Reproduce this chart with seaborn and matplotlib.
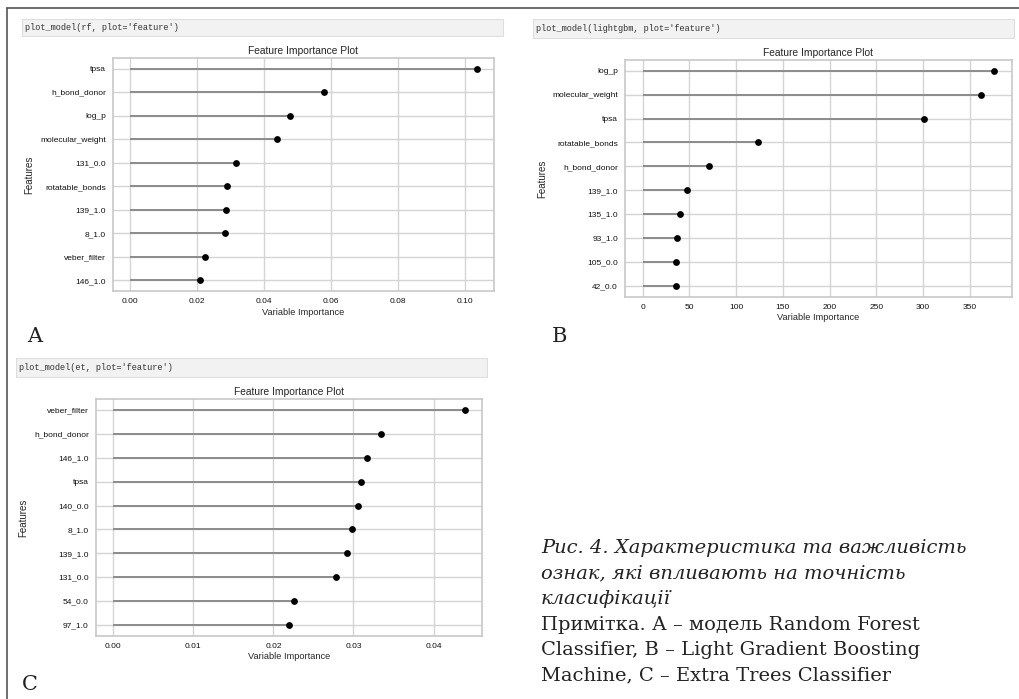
import seaborn as sns
from matplotlib import pyplot as plt
from matplotlib.patches import Rectangle
from matplotlib.lines import Line2D

# values (top to bottom)
rf_features = ['tpsa', 'h_bond_donor', 'log_p', 'molecular_weight', '131_0.0',
               'rotatable_bonds', '139_1.0', '8_1.0', 'veber_filter', '146_1.0']
rf_values = [0.1035, 0.0580, 0.0478, 0.0439, 0.0317, 0.0289, 0.0285, 0.0283, 0.0224, 0.0207]

lgbm_features = ['log_p', 'molecular_weight', 'tpsa', 'rotatable_bonds', 'h_bond_donor',
                 '139_1.0', '135_1.0', '93_1.0', '105_0.0', '42_0.0']
lgbm_values = [376, 362, 301, 123, 71, 47, 40, 37, 36, 36]

et_features = ['veber_filter', 'h_bond_donor', '146_1.0', 'tpsa', '140_0.0',
               '8_1.0', '139_1.0', '131_0.0', '54_0.0', '97_1.0']
et_values = [0.0439, 0.0334, 0.0317, 0.0310, 0.0306, 0.0298, 0.0292, 0.0278, 0.0226, 0.0219]

code_lines = ["plot_model(rf, plot='feature')",
              "plot_model(lightgbm, plot='feature')",
              "plot_model(et, plot='feature')"]
panel_letters = ['A', 'B', 'C']

caption_italic = ['Рис. 4. Характеристика та важливість',
                  'ознак, які впливають на точність',
                  'класифікації']
caption_plain = ['Примітка. А – модель Random Forest',
                 'Classifier, B – Light Gradient Boosting',
                 'Machine, C – Extra Trees Classifier']


def feature_plot(fig, rect, features, values):
    ax = fig.add_axes(rect)
    ax.hlines(y=features, xmin=0, xmax=values, color='#8c8c8c', linewidth=1.4, zorder=2)
    sns.scatterplot(x=values, y=features, ax=ax, color='black', s=24, edgecolor='black',
                    linewidth=0, zorder=3)
    # top feature first
    lo, hi = ax.get_ylim()
    if lo < hi:
        ax.invert_yaxis()
    ax.set_title('Feature Importance Plot', fontsize=7.4, pad=3)
    ax.set_xlabel('Variable Importance', fontsize=6.7, labelpad=2)
    ax.set_ylabel('Features', fontsize=7, labelpad=4)
    ax.tick_params(axis='both', labelsize=6, length=0, pad=5, labelcolor='#111111')
    ax.grid(True, color='#d4d4d4', linewidth=1)
    ax.set_axisbelow(True)
    for s in ax.spines.values():
        s.set_color('#c8c8c8')
        s.set_linewidth(1.2)
    return ax


sns.set_style('whitegrid')
plt.rcParams['font.family'] = ['Liberation Sans', 'DejaVu Sans']

W, H = 1020, 699
fig = plt.figure(figsize=(W / 100, H / 100), dpi=100)


def fx(px):
    return px / W


def fy(py):
    return 1 - py / H


# page frame
fig.add_artist(Line2D([fx(7), 1], [fy(8), fy(8)], color='#555555', linewidth=1.2))
fig.add_artist(Line2D([fx(7), fx(7)], [fy(8), 0], color='#555555', linewidth=1.2))

# code cells
cells = [(22, 19, 503, 36), (533, 19, 1014, 37.5), (16, 358, 487, 376.5)]
for (x0, y0, x1, y1), code in zip(cells, code_lines):
    fig.add_artist(Rectangle((fx(x0), fy(y1)), fx(x1 - x0), (y1 - y0) / H,
                             facecolor='#f2f2f2', edgecolor='#dedede', linewidth=0.8))
    fig.text(fx(x0 + 3), fy((y0 + y1) / 2), code, family='Liberation Mono',
             fontsize=6.2, color='#333333', va='center', ha='left')

axes_rects = [
    [fx(113), fy(291), fx(494 - 113), (291 - 58) / H],
    [fx(625), fy(296.7), fx(1011.7 - 625), (296.7 - 60) / H],
    [fx(95.7), fy(635.7), fx(482.3 - 95.7), (635.7 - 399.3) / H],
]
feature_plot(fig, axes_rects[0], rf_features, rf_values)
feature_plot(fig, axes_rects[1], lgbm_features, lgbm_values)
feature_plot(fig, axes_rects[2], et_features, et_values)

letter_pos = [(27, 337), (552, 337), (22, 685)]
for (x, y), letter in zip(letter_pos, panel_letters):
    fig.text(fx(x), fy(y), letter, family='DejaVu Serif', fontsize=15,
             va='center', ha='left', color='#222222')

y = 548
for line in caption_italic:
    fig.text(fx(541), fy(y), line, family='DejaVu Serif', style='italic',
             fontsize=14, va='center', ha='left', color='#222222')
    y += 25.5
for line in caption_plain:
    fig.text(fx(541), fy(y), line, family='DejaVu Serif',
             fontsize=14, va='center', ha='left', color='#222222')
    y += 25.5

fig.savefig('out.png', dpi=100)
